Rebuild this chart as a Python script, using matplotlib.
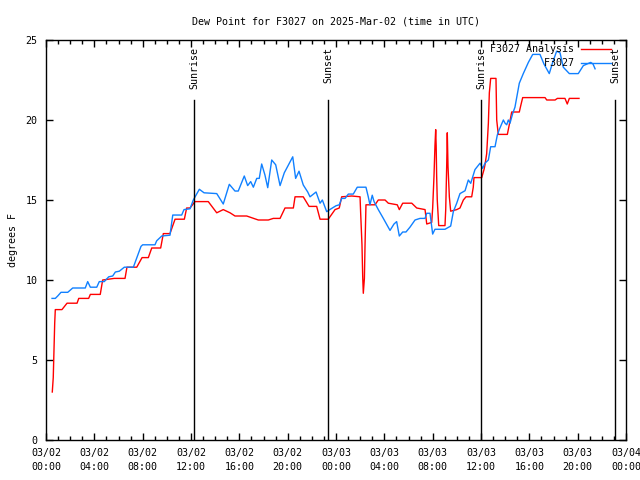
#!/usr/bin/env python3
import pandas as pd
import matplotlib
matplotlib.use('Agg')
import matplotlib.pyplot as plt
import matplotlib.dates as mdates

START = pd.Timestamp('2025-03-02 00:00')

# hours since 03/02 00:00 UTC, dew point in F
analysis_hours = [0.52, 0.60, 0.66, 0.72, 0.77, 1.32, 1.74, 2.57, 2.71, 3.53, 3.67, 4.49,
                  4.69, 5.65, 6.54, 6.70, 7.51, 7.95, 8.47, 8.75, 9.49, 9.71, 10.26, 10.68,
                  11.45, 11.64, 11.92, 12.33, 13.43, 14.13, 14.67, 15.23, 15.64, 16.61, 17.57,
                  18.40, 18.81, 19.37, 19.78, 20.47, 20.61, 21.29, 21.77, 22.40, 22.68, 23.36,
                  23.92, 24.27, 24.47, 25.30, 25.99, 26.04, 26.15, 26.21, 26.26, 26.35, 26.40,
                  26.48, 27.23, 27.50, 28.06, 28.33, 29.07, 29.24, 29.52, 30.27, 30.68, 31.37,
                  31.51, 31.92, 32.00, 32.11, 32.19, 32.25, 32.29, 32.33, 32.38, 32.50, 33.02,
                  33.08, 33.16, 33.21, 33.27, 33.38, 33.49, 33.99, 34.26, 34.54, 34.76, 35.23,
                  35.36, 35.42, 36.06, 36.25, 36.33, 36.47, 36.61, 36.69, 36.80, 37.24, 37.30,
                  37.43, 38.18, 38.34, 38.54, 39.17, 39.29, 39.45, 41.30, 41.44, 42.13, 42.32,
                  42.95, 43.14, 43.31, 44.11]
analysis_dew = [3.0, 3.9, 5.6, 7.3, 8.15, 8.15, 8.55, 8.55, 8.85, 8.85, 9.1, 9.1,
                10.0, 10.1, 10.1, 10.8, 10.8, 11.4, 11.4, 12.0, 12.0, 12.9, 12.9, 13.8,
                13.8, 14.5, 14.5, 14.9, 14.9, 14.2, 14.4, 14.2, 14.0, 14.0, 13.75,
                13.75, 13.85, 13.85, 14.5, 14.5, 15.2, 15.2, 14.6, 14.6, 13.8, 13.8,
                14.4, 14.5, 15.2, 15.25, 15.2, 14.2, 12.2, 10.2, 9.17, 10.1, 12.1,
                14.7, 14.7, 15.0, 15.0, 14.8, 14.7, 14.4, 14.8, 14.8, 14.5, 14.4,
                13.5, 13.6, 14.5, 16.5, 18.4, 19.4, 18.4, 16.5, 15.0, 13.4, 13.4,
                14.4, 17.1, 19.2, 17.1, 15.2, 14.3, 14.4, 14.5, 15.0, 15.2, 15.2,
                15.8, 16.4, 16.4, 16.9, 17.2, 17.9, 19.8, 21.7, 22.6, 22.6, 20.0,
                19.1, 19.1, 19.7, 20.5, 20.5, 20.9, 21.4, 21.4, 21.25, 21.25, 21.35,
                21.35, 21.0, 21.35, 21.35]

obs_hours = [0.50, 0.77, 0.97, 1.24, 1.80, 2.21, 3.25, 3.45, 3.67, 4.20, 4.41, 4.82,
             5.19, 5.52, 5.74, 6.07, 6.48, 7.23, 7.45, 7.86, 8.00, 9.02, 9.16, 9.58,
             10.26, 10.49, 11.23, 11.42, 11.92, 12.19, 12.69, 13.08, 14.13, 14.67, 15.17,
             15.64, 15.91, 16.41, 16.69, 16.94, 17.16, 17.44, 17.65, 17.85, 18.12, 18.35,
             18.68, 19.01, 19.37, 19.72, 20.42, 20.66, 20.94, 21.29, 21.66, 21.85, 22.35,
             22.68, 22.87, 23.23, 23.59, 24.00, 24.27, 24.47, 24.75, 25.02, 25.43, 25.76,
             26.48, 26.67, 26.81, 27.00, 27.15, 27.50, 27.91, 28.47, 28.80, 29.02, 29.24,
             29.52, 29.79, 30.12, 30.54, 30.95, 31.37, 31.51, 31.78, 31.92, 32.00, 32.19,
             33.02, 33.49, 33.71, 33.99, 34.26, 34.68, 34.95, 35.15, 35.50, 35.92, 36.14,
             36.33, 36.61, 36.80, 37.16, 37.35, 37.51, 37.85, 37.99, 38.13, 38.26, 38.40,
             38.62, 38.81, 39.17, 39.50, 39.92, 40.28, 40.88, 41.21, 41.65, 41.93, 42.26,
             42.54, 42.81, 43.31, 44.05, 44.47, 45.08, 45.27, 45.44]
obs_dew = [8.85, 8.85, 9.0, 9.23, 9.23, 9.5, 9.5, 9.9, 9.55, 9.55, 9.9, 9.9,
           10.2, 10.25, 10.5, 10.55, 10.8, 10.8, 11.25, 12.1, 12.2, 12.2, 12.45, 12.75,
           12.8, 14.06, 14.06, 14.4, 14.45, 15.0, 15.67, 15.45, 15.4, 14.75, 15.98,
           15.56, 15.56, 16.5, 15.9, 16.15, 15.8, 16.35, 16.35, 17.25, 16.56, 15.77,
           17.5, 17.2, 15.9, 16.7, 17.7, 16.35, 16.8, 15.94, 15.5, 15.2, 15.5,
           14.8, 15.0, 14.27, 14.45, 14.64, 14.7, 15.1, 15.1, 15.37, 15.37, 15.8,
           15.8, 15.2, 14.7, 15.3, 14.9, 14.4, 13.86, 13.1, 13.5, 13.65, 12.75,
           13.0, 13.0, 13.3, 13.75, 13.85, 13.85, 14.17, 14.17, 13.33, 12.87, 13.17,
           13.17, 13.37, 14.27, 14.8, 15.4, 15.58, 16.25, 16.04, 16.9, 17.3, 16.98,
           17.3, 17.5, 18.33, 18.33, 19.06, 19.4, 20.0, 19.8, 19.7, 20.0, 19.8,
           20.4, 20.8, 22.3, 22.9, 23.6, 24.1, 24.1, 23.5, 22.9, 23.6, 24.3,
           24.2, 23.3, 22.9, 22.9, 23.4, 23.6, 23.5, 23.2]

sun_hours = [12.25, 23.34, 36.0, 47.09]
sun_labels = ['Sunrise', 'Sunset', 'Sunrise', 'Sunset']


def to_time(hours):
    return START + pd.to_timedelta(hours, unit='h')


FS = 7.2
plt.rcParams['font.family'] = ['DejaVu Sans Mono']
plt.rcParams['font.size'] = FS

fig = plt.figure(figsize=(6.4, 4.8), dpi=100)
ax = fig.add_axes([46 / 640, 40 / 480, 580 / 640, 400 / 480])

ax.plot(to_time(analysis_hours), analysis_dew, color='#ff0000', lw=1.0,
        label='F3027 Analysis')
ax.plot(to_time(obs_hours), obs_dew, color='#1080ff', lw=1.0,
        label='         F3027')

line_top = 21.25
for h, lab in zip(sun_hours, sun_labels):
    t = to_time(h)
    ax.plot([t, t], [0, line_top], color='black', lw=1.0)
    ax.text(t, 24.55, lab, rotation=90, ha='center', va='top', fontsize=FS)

ax.set_xlim(to_time(0), to_time(48))
ax.set_ylim(0, 25)
ax.set_yticks([0, 5, 10, 15, 20, 25])
ax.xaxis.set_major_locator(mdates.HourLocator(byhour=range(0, 24, 4)))
ax.xaxis.set_minor_locator(mdates.HourLocator())
ax.xaxis.set_major_formatter(mdates.DateFormatter('%m/%d\n%H:%M'))
ax.tick_params(which='both', direction='in', top=True, right=True, width=1.0)
ax.tick_params(which='major', length=5, labelsize=FS, pad=6)
ax.tick_params(which='minor', length=3)
for lbl in ax.get_xticklabels():
    lbl.set_linespacing(1.5)
for s in ax.spines.values():
    s.set_linewidth(1.0)

ax.set_ylabel('degrees F', fontsize=FS)
ax.yaxis.set_label_coords(-(46 - 18) / 580, 0.5)
ax.set_title('Dew Point for F3027 on 2025-Mar-02 (time in UTC)', fontsize=FS, pad=11)

ax.legend(loc='upper right', bbox_to_anchor=(0.985, 1.005), frameon=False,
          markerfirst=False, handlelength=3.0, handletextpad=0.7,
          labelspacing=0.4, borderaxespad=0.2, fontsize=FS)

fig.savefig('out.png', dpi=100)
